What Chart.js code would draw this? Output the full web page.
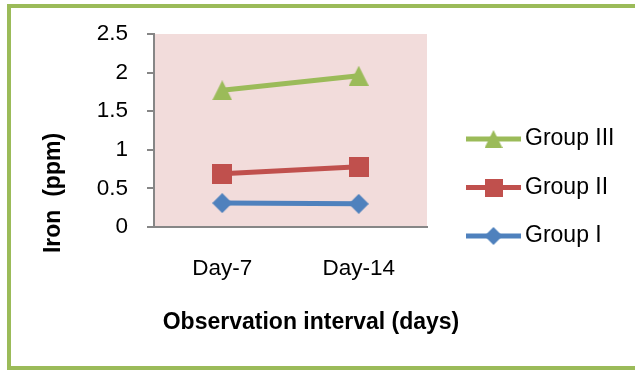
<!DOCTYPE html>
<html>
<head>
<meta charset="utf-8">
<script src="https://cdn.jsdelivr.net/npm/chart.js@4.4.1/dist/chart.umd.min.js"></script>
<style>
    html, body { margin: 0; padding: 0; background: #fff; overflow: hidden; }
    #myChart { display: block; }
</style>
</head>
<body>
<canvas id="myChart" width="635" height="371"></canvas>
<script>
//---- Datos ----
const dias = ['Day-7', 'Day-14'];
const grupo1 = [0.31, 0.30];
const grupo2 = [0.69, 0.78];
const grupo3 = [1.77, 1.96];
const nombresGrupos = ['Group I', 'Group II', 'Group III'];
const yTicks = [0, 0.5, 1, 1.5, 2, 2.5];
const tituloX = 'Observation interval (days)';
const tituloY = 'Iron  (ppm)';

const colores = ['#4f81bd', '#c0504d', '#9bbb59'];
const formas = ['diamond', 'square', 'triangle'];
const fuente = '"Liberation Sans", Arial, sans-serif';

// Marcadores estilo Excel (rombo, cuadrado, triangulo) dibujados en un canvas
const makeMarker = (forma, color, size) => {
    const c = document.createElement('canvas');
    c.width = size;
    c.height = size;
    const ctx = c.getContext('2d');
    const m = size / 2;
    ctx.fillStyle = color;
    ctx.beginPath();
    if (forma === 'square') {
        ctx.rect(0, 0, size, size);
    } else if (forma === 'diamond') {
        ctx.moveTo(m, 0);
        ctx.lineTo(size, m);
        ctx.lineTo(m, size);
        ctx.lineTo(0, m);
    } else {
        ctx.moveTo(m, 0);
        ctx.lineTo(size, size);
        ctx.lineTo(0, size);
    }
    ctx.closePath();
    ctx.fill();
    return c;
};

const marcadores = formas.map((f, i) => makeMarker(f, colores[i], 20));
const marcadoresLeyenda = formas.map((f, i) => makeMarker(f, colores[i], 18));

const datasets = [grupo1, grupo2, grupo3].map((valores, i) => ({
    label: nombresGrupos[i],
    data: valores,
    borderColor: colores[i],
    backgroundColor: colores[i],
    borderWidth: 5,
    pointStyle: marcadores[i],
    pointRadius: 10,
    tension: 0
}));

//---- Marco verde (sin lado derecho) y fondo rosado del area de trazado ----
const fondoArea = {
    id: 'fondoArea',
    beforeDraw(chart) {
        const { ctx, chartArea: a, width, height } = chart;
        ctx.save();
        ctx.fillStyle = '#9bbb59';
        ctx.fillRect(7, 4, width - 7, 4);
        ctx.fillRect(7, 4, 4, height - 8);
        ctx.fillRect(7, height - 5, width - 7, 4);
        ctx.fillStyle = '#f2dcdb';
        ctx.fillRect(a.left, a.top, a.right - a.left, a.bottom - a.top);
        ctx.restore();
    }
};

//---- Titulos de ejes y leyenda a la derecha ----
const textos = {
    id: 'textos',
    afterDraw(chart) {
        const ctx = chart.ctx;
        ctx.save();
        ctx.fillStyle = '#000';
        ctx.textBaseline = 'middle';
        ctx.textAlign = 'center';
        ctx.font = 'bold 23px ' + fuente;
        ctx.fillText(tituloX, 311, 323);
        ctx.save();
        ctx.translate(54, 193);
        ctx.rotate(-Math.PI / 2);
        ctx.fillText(tituloY, 0, 0);
        ctx.restore();

        // leyenda en orden inverso (Group III arriba)
        ctx.font = '23px ' + fuente;
        ctx.textAlign = 'left';
        const x0 = 466, x1 = 521, y0 = 139, paso = 48.5;
        chart.data.datasets.slice().reverse().forEach((ds, k) => {
            const i = chart.data.datasets.length - 1 - k;
            const y = y0 + k * paso;
            ctx.strokeStyle = ds.borderColor;
            ctx.lineWidth = 5;
            ctx.beginPath();
            ctx.moveTo(x0, y);
            ctx.lineTo(x1, y);
            ctx.stroke();
            const img = marcadoresLeyenda[i];
            ctx.drawImage(img, (x0 + x1) / 2 - img.width / 2, y - img.height / 2);
            ctx.fillStyle = '#000';
            ctx.fillText(ds.label, x1 + 4, y);
        });
        ctx.restore();
    }
};

const graph = document.querySelector('#myChart');
const chart = new Chart(graph, {
    type: 'line',
    data: {
        labels: dias,
        datasets: datasets
    },
    options: {
        responsive: false,
        animation: false,
        devicePixelRatio: 1,
        layout: { padding: { left: 0, top: 34, right: 208, bottom: 0 } },
        scales: {
            x: {
                offset: true,
                grid: { display: true, drawOnChartArea: false, drawTicks: false },
                border: { display: true, color: '#868686', width: 2 },
                ticks: { color: '#000', padding: 28, font: { family: fuente, size: 22.5 } },
                afterFit: (scale) => { scale.height = 144; }
            },
            y: {
                min: 0,
                max: 2.5,
                afterBuildTicks: (scale) => { scale.ticks = yTicks.map(v => ({ value: v })); },
                grid: { drawOnChartArea: false, drawTicks: true, tickLength: 7, color: '#868686', lineWidth: 2 },
                border: { display: true, color: '#868686', width: 2 },
                ticks: {
                    color: '#000',
                    padding: 19,
                    font: { family: fuente, size: 22.5 },
                    callback: (value) => String(value)
                },
                afterFit: (scale) => { scale.width = 154; }
            }
        },
        plugins: {
            legend: { display: false },
            tooltip: { enabled: false }
        }
    },
    plugins: [fondoArea, textos]
});
</script>
</body>
</html>
